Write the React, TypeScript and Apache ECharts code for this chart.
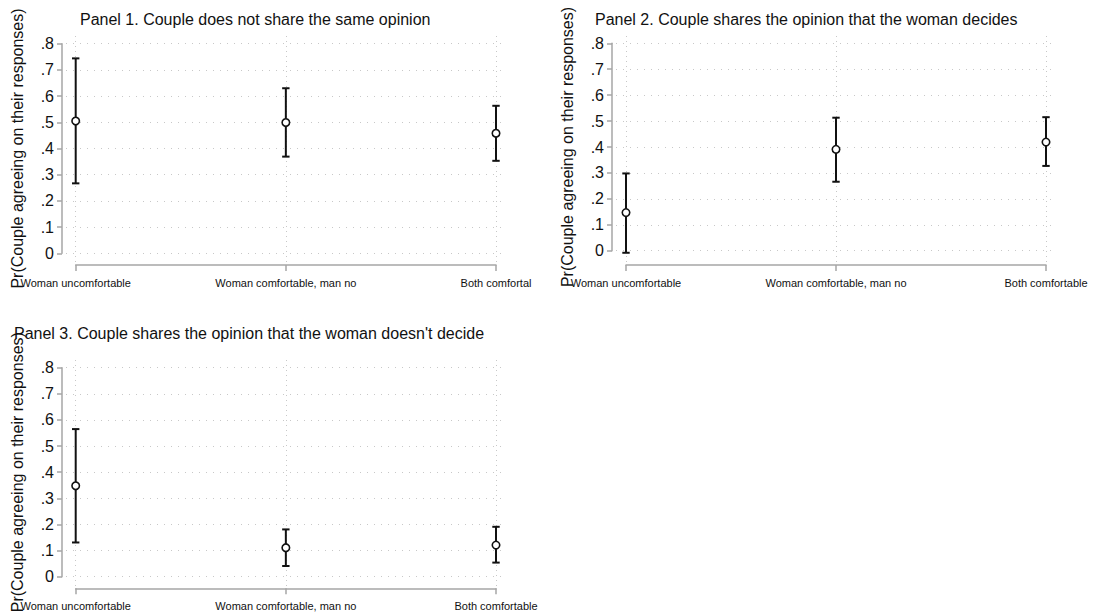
import React, { useEffect, useRef } from "react";
import * as echarts from "echarts";

// ---- data ----
const catsP1 = ["Woman uncomfortable", "Woman comfortable, man no", "Both comfortal"];
const catsP23 = ["Woman uncomfortable", "Woman comfortable, man no", "Both comfortable"];

const p1Est = [0.505, 0.499, 0.458];
const p1Lo = [0.267, 0.369, 0.353];
const p1Hi = [0.744, 0.63, 0.563];

const p2Est = [0.147, 0.391, 0.419];
const p2Lo = [-0.008, 0.266, 0.327];
const p2Hi = [0.298, 0.513, 0.515];

const p3Est = [0.348, 0.111, 0.121];
const p3Lo = [0.131, 0.041, 0.054];
const p3Hi = [0.565, 0.181, 0.191];

const yTickValues = [0, 0.1, 0.2, 0.3, 0.4, 0.5, 0.6, 0.7, 0.8];

const titles = [
  "Panel 1. Couple does not share the same opinion",
  "Panel 2. Couple shares the opinion that the woman decides",
  "Panel 3. Couple shares the opinion that the woman doesn't decide",
];
const yTitle = "Pr(Couple agreeing on their responses)";

// ---- layout (pixels) ----
const FONT = "'Liberation Sans', Arial, Helvetica, sans-serif";
const panels = [
  { cats: catsP1, est: p1Est, lo: p1Lo, hi: p1Hi, axisX: 62, y0: 253.3, y8: 43.7, c1: 75.7, c3: 496, gL: 66, gR: 507, gT: 33, gB: 262, xAxisY: 265, tX: 80, tY: 11 },
  { cats: catsP23, est: p2Est, lo: p2Lo, hi: p2Hi, axisX: 612, y0: 250.7, y8: 43.3, c1: 626, c3: 1046, gL: 616, gR: 1057, gT: 33, gB: 262, xAxisY: 265, tX: 595, tY: 11 },
  { cats: catsP23, est: p3Est, lo: p3Lo, hi: p3Hi, axisX: 62, y0: 576.7, y8: 367.7, c1: 75.7, c3: 496, gL: 66, gR: 507, gT: 357, gB: 586, xAxisY: 588.3, tX: 14, tY: 325 },
];

function buildOption() {
  const grid: any[] = [];
  const xAxis: any[] = [];
  const yAxis: any[] = [];
  const series: any[] = [];
  const title: any[] = [];

  panels.forEach((p, k) => {
    const xUnit = (p.c3 - p.c1) / 2;
    const yUnit = (p.y0 - p.y8) / 0.8;
    const base = grid.length;

    // data grid
    grid.push({ left: p.gL, top: p.gT, width: p.gR - p.gL, height: p.gB - p.gT });
    xAxis.push({
      gridIndex: base, type: "value", show: false,
      min: -(p.c1 - p.gL) / xUnit, max: 2 + (p.gR - p.c3) / xUnit,
      splitLine: { show: false },
    });
    yAxis.push({
      gridIndex: base, type: "value", show: false,
      min: -(p.gB - p.y0) / yUnit, max: 0.8 + (p.y8 - p.gT) / yUnit,
      splitLine: { show: false },
    });

    // y-axis grid
    grid.push({ left: p.axisX, top: p.y8, width: 10, height: p.y0 - p.y8 });
    xAxis.push({ gridIndex: base + 1, type: "value", show: false });
    yAxis.push({
      gridIndex: base + 1, type: "value", min: 0, max: 0.8, interval: 0.1,
      position: "left",
      axisLine: { show: true, lineStyle: { color: "#a6a6a6", width: 1.5 } },
      axisTick: { show: true, length: 5, lineStyle: { color: "#a6a6a6", width: 1.5 } },
      axisLabel: {
        margin: 8, color: "#111", fontSize: 16, fontFamily: FONT,
        formatter: (v: number) => (Math.abs(v) < 1e-9 ? "0" : v.toFixed(1).replace(/^0/, "")),
      },
      splitLine: { show: false },
      name: yTitle, nameLocation: "middle", nameGap: 37, nameRotate: 90,
      nameTextStyle: { color: "#111", fontSize: 16, fontFamily: FONT },
    });

    // x-axis grid
    grid.push({ left: p.c1, top: p.xAxisY - 1, width: p.c3 - p.c1, height: 1 });
    xAxis.push({
      gridIndex: base + 2, type: "category", data: p.cats, boundaryGap: false,
      position: "bottom",
      axisLine: { show: true, lineStyle: { color: "#a6a6a6", width: 1.5 } },
      axisTick: { show: true, length: 6, alignWithLabel: true, lineStyle: { color: "#a6a6a6", width: 1.5 } },
      axisLabel: { margin: 12, color: "#111", fontSize: 11, fontFamily: FONT, interval: 0 },
      splitLine: { show: false },
    });
    yAxis.push({ gridIndex: base + 2, type: "value", show: false });

    title.push({
      text: titles[k], left: p.tX, top: p.tY, padding: 0,
      textStyle: { fontSize: 16, fontWeight: "normal", color: "#111", fontFamily: FONT },
    });

    const hLines = yTickValues.map((v) => ({ yAxis: v, lineStyle: { type: [1, 6], color: "#c8c8c8", width: 1 } }));
    const vLines = p.cats.map((_, i) => ({ xAxis: i, lineStyle: { type: [1, 4], color: "#c8c8c8", width: 1 } }));

    // gridlines (behind marks)
    series.push({
      type: "scatter", xAxisIndex: base, yAxisIndex: base, z: 1, silent: true,
      data: [],
      markLine: {
        silent: true, symbol: "none", label: { show: false }, z: 1,
        data: [...hLines, ...vLines],
      },
    });

    // error bars
    series.push({
      type: "custom", xAxisIndex: base, yAxisIndex: base, clip: false, z: 3,
      data: p.cats.map((_, i) => [i, p.lo[i], p.hi[i]]),
      encode: { x: 0, y: [1, 2] },
      renderItem: (params: any, api: any) => {
        const lo = api.coord([api.value(0), api.value(1)]);
        const hi = api.coord([api.value(0), api.value(2)]);
        const hw = 3.7;
        const style = { stroke: "#111", lineWidth: 2 };
        return {
          type: "group",
          children: [
            { type: "line", shape: { x1: lo[0], y1: lo[1], x2: hi[0], y2: hi[1] }, style },
            { type: "line", shape: { x1: lo[0] - hw, y1: lo[1], x2: lo[0] + hw, y2: lo[1] }, style },
            { type: "line", shape: { x1: hi[0] - hw, y1: hi[1], x2: hi[0] + hw, y2: hi[1] }, style },
          ],
        };
      },
    });

    // point estimates
    series.push({
      type: "scatter", xAxisIndex: base, yAxisIndex: base, z: 4,
      symbol: "circle", symbolSize: 7.5,
      itemStyle: { color: "#ffffff", borderColor: "#111", borderWidth: 1.6, opacity: 1 },
      data: p.est.map((v, i) => [i, v]),
    });
  });

  return {
    animation: false,
    backgroundColor: "#ffffff",
    textStyle: { fontFamily: FONT },
    title, grid, xAxis, yAxis, series,
  };
}

export default function App() {
  const ref = useRef<HTMLDivElement>(null);
  useEffect(() => {
    if (!ref.current) return;
    const chart = echarts.init(ref.current, undefined, { renderer: "svg" });
    chart.setOption(buildOption() as any);
    return () => chart.dispose();
  }, []);
  return (
    <div
      ref={ref}
      style={{ position: "fixed", left: 0, top: 0, width: 1093, height: 616, background: "#fff" }}
    />
  );
}
